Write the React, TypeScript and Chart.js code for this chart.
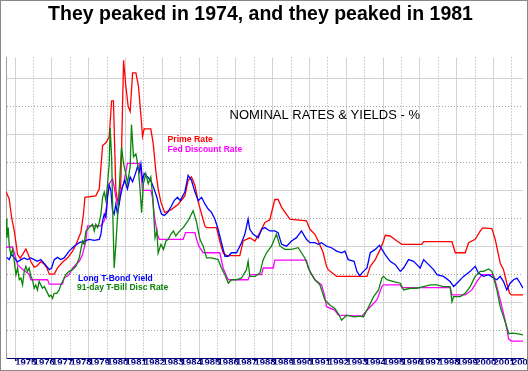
import React, { useEffect, useRef } from "react";
import { Chart, registerables } from "chart.js";

Chart.register(...registerables);

const titleText = "They peaked in 1974, and they peaked in 1981";
const subtitleText = "NOMINAL RATES & YIELDS - %";
const seriesNames = ["Prime Rate", "Fed Discount Rate", "Long T-Bond Yield", "91-day T-Bill Disc Rate"];

const xTickYears = [
  1975, 1976, 1977, 1978, 1979, 1980, 1981, 1982, 1983, 1984, 1985, 1986, 1987, 1988,
  1989, 1990, 1991, 1992, 1993, 1994, 1995, 1996, 1997, 1998, 1999, 2000, 2001, 2002,
];
const yGridValues = [0, 2, 4, 6, 8, 10, 12, 14, 16, 18, 20];

// [decimal year, percent]
const primeRate: [number, number][] = [
  [1974.5, 11.9], [1974.67, 11.4], [1974.8, 10.1], [1974.95, 9.1], [1975.13, 7.4], [1975.27, 7.15],
  [1975.4, 7.4], [1975.58, 7.8], [1975.71, 7.4], [1975.85, 6.9], [1976.03, 6.5], [1976.2, 6.6],
  [1976.39, 6.9], [1976.58, 6.7], [1976.72, 6.45], [1976.85, 6.0], [1977.12, 6.0], [1977.3, 6.45],
  [1977.57, 6.85], [1977.84, 7.15], [1978.12, 7.65], [1978.3, 8.1], [1978.57, 9.0], [1978.71, 10.3],
  [1978.79, 11.5], [1979.38, 11.6], [1979.57, 12.1], [1979.75, 15.2], [1979.93, 15.4], [1980.11, 15.85],
  [1980.24, 18.4], [1980.34, 18.4], [1980.47, 12.0], [1980.6, 11.0], [1980.74, 12.5], [1980.89, 21.3],
  [1981.01, 19.5], [1981.14, 18.0], [1981.25, 17.65], [1981.38, 20.4], [1981.56, 20.4], [1981.7, 19.45],
  [1981.83, 17.4], [1981.92, 15.85], [1982.01, 16.4], [1982.37, 16.4], [1982.5, 15.35], [1982.64, 13.4],
  [1982.77, 12.1], [1982.92, 11.15], [1983.13, 10.4], [1983.46, 10.6], [1983.86, 11.0], [1984.22, 11.6],
  [1984.4, 12.7], [1984.58, 12.95], [1984.77, 12.35], [1984.95, 11.15], [1985.13, 10.3], [1985.31, 9.45],
  [1985.4, 9.33], [1985.94, 9.33], [1986.12, 8.37], [1986.3, 7.53], [1986.49, 7.33], [1987.21, 7.33],
  [1987.39, 8.37], [1987.75, 8.6], [1988.03, 8.37], [1988.3, 8.97], [1988.57, 9.7], [1988.84, 9.89],
  [1989.11, 11.34], [1989.29, 11.34], [1989.48, 10.78], [1989.93, 9.94], [1990.83, 9.82], [1991.02, 9.21],
  [1991.29, 8.85], [1991.47, 8.37], [1991.74, 7.53], [1991.92, 6.56], [1992.01, 6.32], [1992.47, 5.84],
  [1994.12, 5.84], [1994.3, 6.56], [1994.57, 7.04], [1994.84, 7.77], [1995.02, 8.37], [1995.11, 8.78],
  [1995.38, 8.73], [1995.75, 8.37], [1996.02, 8.13], [1997.1, 8.13], [1997.2, 8.32], [1998.74, 8.32],
  [1998.92, 7.53], [1999.46, 7.53], [1999.64, 8.25], [2000.0, 8.49], [2000.28, 9.09], [2000.42, 9.31],
  [2000.91, 9.26], [2001.09, 8.49], [2001.36, 6.8], [2001.54, 6.32], [2001.72, 5.35], [2001.87, 4.63],
  [2002.0, 4.51], [2002.6, 4.51],
];

const fedDiscountRate: [number, number][] = [
  [1974.5, 7.94], [1974.86, 7.94], [1974.98, 7.4], [1975.13, 6.68], [1975.31, 6.44], [1975.76, 6.0],
  [1975.85, 5.6], [1976.76, 5.6], [1976.85, 5.28], [1977.57, 5.28], [1977.66, 5.72], [1977.93, 5.96],
  [1978.12, 6.44], [1978.48, 6.92], [1978.66, 7.4], [1978.84, 8.37], [1978.93, 9.45], [1979.66, 9.45],
  [1979.84, 9.82], [1979.98, 11.0], [1980.05, 12.35], [1980.29, 12.83], [1980.38, 12.23], [1980.47, 11.5],
  [1980.56, 11.0], [1980.65, 11.0], [1980.74, 12.0], [1980.89, 12.47], [1981.1, 13.92], [1981.74, 13.92],
  [1981.83, 13.31], [1981.92, 12.0], [1982.37, 12.0], [1982.46, 11.5], [1982.55, 10.3], [1982.64, 9.57],
  [1982.73, 8.85], [1982.83, 8.49], [1984.13, 8.49], [1984.26, 8.97], [1984.77, 8.97], [1984.86, 8.49],
  [1984.98, 8.0], [1985.22, 7.53], [1986.12, 7.53], [1986.3, 6.44], [1986.49, 5.84], [1986.58, 5.6],
  [1987.66, 5.6], [1987.75, 5.96], [1988.39, 5.96], [1988.48, 6.44], [1989.02, 6.44], [1989.11, 7.0],
  [1990.83, 7.0], [1990.93, 6.44], [1991.11, 5.96], [1991.29, 5.6], [1991.65, 5.23], [1991.83, 4.39],
  [1991.92, 3.67], [1992.37, 3.43], [1992.56, 3.06], [1993.84, 3.0], [1994.3, 3.67], [1994.66, 4.15],
  [1994.93, 5.11], [1995.02, 5.23], [1995.93, 5.23], [1996.02, 5.04], [1998.65, 5.04], [1998.74, 4.51],
  [1999.46, 4.51], [1999.82, 4.87], [2000.09, 5.47], [2000.37, 5.96], [2000.99, 5.96], [2001.18, 5.11],
  [2001.36, 4.15], [2001.63, 2.7], [2001.82, 1.37], [2001.96, 1.21], [2002.6, 1.21],
];

const longBondYield: [number, number][] = [
  [1974.55, 7.2], [1974.67, 7.04], [1974.8, 7.4], [1974.95, 7.16], [1975.13, 6.87], [1975.31, 7.04],
  [1975.49, 7.16], [1975.67, 7.04], [1975.85, 7.16], [1976.03, 7.04], [1976.21, 6.92], [1976.39, 7.04],
  [1976.67, 6.63], [1976.85, 6.32], [1976.98, 6.44], [1977.12, 7.04], [1977.3, 7.2], [1977.48, 7.04],
  [1977.66, 7.16], [1977.93, 7.65], [1978.2, 8.0], [1978.48, 8.25], [1978.75, 8.37], [1979.02, 8.49],
  [1979.3, 8.42], [1979.57, 8.49], [1979.66, 8.85], [1979.75, 9.82], [1979.84, 10.3], [1979.93, 10.06],
  [1980.02, 11.5], [1980.11, 12.35], [1980.2, 12.0], [1980.29, 10.54], [1980.38, 10.3], [1980.47, 11.0],
  [1980.56, 10.3], [1980.71, 11.5], [1980.83, 12.23], [1980.96, 12.71], [1981.1, 12.1], [1981.25, 12.95],
  [1981.38, 12.6], [1981.56, 13.3], [1981.65, 13.7], [1981.74, 13.3], [1981.83, 13.9], [1981.92, 12.7],
  [1982.01, 13.2], [1982.19, 12.95], [1982.37, 12.7], [1982.55, 12.1], [1982.7, 11.5], [1982.83, 10.8],
  [1982.95, 10.3], [1983.1, 10.2], [1983.28, 10.4], [1983.46, 10.8], [1983.64, 11.26], [1983.82, 11.5],
  [1983.97, 11.26], [1984.22, 11.87], [1984.4, 13.07], [1984.58, 12.71], [1984.77, 11.87], [1984.95, 11.26],
  [1985.13, 11.5], [1985.31, 11.02], [1985.49, 10.66], [1985.67, 10.42], [1985.85, 9.94], [1986.03, 9.21],
  [1986.21, 8.25], [1986.4, 7.28], [1986.58, 7.28], [1986.76, 7.53], [1987.03, 7.53], [1987.3, 8.25],
  [1987.48, 8.85], [1987.66, 9.94], [1987.75, 9.21], [1987.94, 8.85], [1988.21, 8.61], [1988.39, 9.21],
  [1988.57, 9.33], [1988.84, 9.09], [1989.11, 9.09], [1989.29, 8.97], [1989.48, 8.13], [1989.75, 8.0],
  [1990.02, 8.37], [1990.29, 8.61], [1990.56, 9.09], [1990.83, 8.49], [1991.02, 8.25], [1991.29, 8.25],
  [1991.47, 8.13], [1991.65, 8.25], [1991.92, 8.0], [1992.19, 7.89], [1992.47, 7.65], [1992.74, 7.53],
  [1992.92, 7.65], [1993.1, 7.04], [1993.42, 6.92], [1993.57, 6.2], [1993.72, 5.89], [1993.93, 6.2],
  [1994.12, 6.44], [1994.3, 7.53], [1994.57, 7.77], [1994.8, 8.06], [1994.93, 7.77], [1995.11, 7.4],
  [1995.38, 6.92], [1995.66, 6.68], [1995.93, 6.2], [1996.11, 6.44], [1996.38, 7.04], [1996.65, 6.92],
  [1996.83, 6.68], [1997.01, 6.44], [1997.2, 7.04], [1997.47, 6.68], [1997.74, 6.32], [1997.92, 5.96],
  [1998.28, 5.84], [1998.64, 5.47], [1998.83, 5.11], [1999.01, 5.35], [1999.37, 5.84], [1999.73, 6.2],
  [2000.0, 6.56], [2000.18, 6.08], [2000.46, 5.84], [2000.73, 5.96], [2001.0, 5.72], [2001.18, 5.6],
  [2001.36, 5.84], [2001.54, 5.47], [2001.72, 4.87], [2001.9, 5.35], [2002.09, 5.6], [2002.27, 5.72],
  [2002.45, 5.35], [2002.6, 5.0],
];

const tBillRate: [number, number][] = [
  [1974.5, 9.94], [1974.55, 8.6], [1974.62, 9.33], [1974.67, 8.13], [1974.76, 7.4], [1974.86, 7.77],
  [1974.95, 6.92], [1975.04, 5.96], [1975.13, 6.44], [1975.22, 5.6], [1975.31, 5.72], [1975.4, 5.23],
  [1975.49, 6.2], [1975.58, 6.56], [1975.67, 6.2], [1975.76, 6.44], [1975.85, 5.84], [1975.94, 5.6],
  [1976.03, 4.99], [1976.12, 5.23], [1976.21, 4.87], [1976.3, 5.48], [1976.39, 5.23], [1976.48, 4.99],
  [1976.58, 5.11], [1976.72, 4.75], [1976.85, 4.39], [1976.94, 4.5], [1977.03, 4.27], [1977.12, 4.63],
  [1977.26, 4.63], [1977.39, 4.87], [1977.48, 5.23], [1977.62, 5.6], [1977.75, 5.96], [1977.93, 6.2],
  [1978.12, 6.32], [1978.3, 6.56], [1978.48, 7.16], [1978.66, 8.37], [1978.75, 8.13], [1978.84, 9.09],
  [1979.02, 9.33], [1979.2, 9.57], [1979.3, 9.09], [1979.38, 9.57], [1979.48, 9.33], [1979.57, 9.7],
  [1979.66, 10.3], [1979.75, 11.5], [1979.84, 11.87], [1979.93, 11.26], [1980.02, 12.47], [1980.11, 13.9],
  [1980.16, 16.45], [1980.24, 14.4], [1980.31, 10.06], [1980.38, 6.44], [1980.47, 8.13], [1980.56, 10.06],
  [1980.65, 12.0], [1980.78, 15.1], [1980.89, 13.9], [1981.01, 13.2], [1981.1, 12.5], [1981.25, 13.7],
  [1981.32, 16.7], [1981.43, 14.4], [1981.56, 14.6], [1981.68, 13.7], [1981.79, 12.0], [1981.87, 10.4],
  [1981.97, 12.47], [1982.1, 13.2], [1982.23, 12.47], [1982.37, 12.95], [1982.48, 11.5], [1982.6, 8.6],
  [1982.7, 9.09], [1982.77, 7.5], [1982.92, 8.13], [1983.06, 7.77], [1983.19, 8.37], [1983.32, 8.49],
  [1983.46, 8.85], [1983.6, 9.09], [1983.73, 8.73], [1983.86, 8.97], [1984.13, 9.33], [1984.4, 9.82],
  [1984.67, 10.54], [1984.86, 9.7], [1985.04, 8.49], [1985.22, 8.0], [1985.4, 7.16], [1985.67, 7.16],
  [1986.03, 7.04], [1986.21, 6.44], [1986.4, 5.96], [1986.58, 5.35], [1986.76, 5.6], [1987.03, 5.6],
  [1987.3, 5.72], [1987.57, 6.32], [1987.66, 6.92], [1987.75, 5.84], [1988.03, 5.84], [1988.3, 6.08],
  [1988.48, 7.04], [1988.66, 7.53], [1988.93, 8.0], [1989.2, 8.85], [1989.39, 8.0], [1989.66, 7.77],
  [1990.02, 7.77], [1990.38, 7.89], [1990.74, 7.16], [1991.02, 6.2], [1991.29, 5.6], [1991.56, 5.23],
  [1991.83, 4.15], [1992.1, 3.79], [1992.37, 3.55], [1992.56, 3.18], [1992.74, 2.7], [1993.01, 3.06],
  [1993.42, 2.94], [1993.75, 3.0], [1993.93, 2.94], [1994.21, 3.67], [1994.48, 4.39], [1994.75, 4.87],
  [1994.93, 5.72], [1995.02, 5.84], [1995.2, 5.6], [1995.57, 5.47], [1995.93, 5.35], [1996.11, 4.87],
  [1996.47, 4.99], [1996.83, 4.99], [1997.2, 5.11], [1997.56, 5.23], [1997.92, 5.23], [1998.28, 5.11],
  [1998.64, 5.11], [1998.74, 4.03], [1998.83, 4.39], [1999.19, 4.39], [1999.46, 4.63], [1999.73, 5.11],
  [2000.0, 5.84], [2000.28, 6.2], [2000.46, 6.2], [2000.73, 6.37], [2000.91, 6.2], [2001.18, 4.87],
  [2001.36, 3.67], [2001.54, 2.94], [2001.72, 2.22], [2001.82, 1.74], [2002.0, 1.78], [2002.27, 1.74],
  [2002.6, 1.66],
];

const RED = "#ff0000";
const MAGENTA = "#ff00ff";
const BLUE = "#0000ff";
const GREEN = "#0a850a";
const NAVY = "#000080";
const FONT = "'Liberation Sans', Arial, Helvetica, sans-serif";

const gridColor = (c: any) => (c.index % 2 ? "#a4a4a4" : "#d2d2d2");
const gridDash = (c: any) => (c.index % 2 ? [1, 2] : []);

export default function App() {
  const ref = useRef<HTMLCanvasElement | null>(null);

  useEffect(() => {
    document.body.style.margin = "0";
    const canvas = ref.current;
    if (!canvas) return;
    const toPts = (arr: [number, number][]) => arr.map(([x, y]) => ({ x, y }));

    const textPlugin = {
      id: "chartTexts",
      afterDraw(chart: any) {
        const ctx = chart.ctx as CanvasRenderingContext2D;
        ctx.save();
        ctx.textBaseline = "alphabetic";
        ctx.fillStyle = "#000000";
        ctx.font = `bold 19.5px ${FONT}`;
        ctx.textAlign = "center";
        ctx.fillText(titleText, 260.5, 19.5);
        ctx.textAlign = "left";
        ctx.font = `13px ${FONT}`;
        ctx.fillText(subtitleText, 229.5, 118.5);
        ctx.font = `bold 8.7px ${FONT}`;
        ctx.fillStyle = RED;
        ctx.fillText(seriesNames[0], 167.5, 141.5);
        ctx.font = `bold 8.5px ${FONT}`;
        ctx.fillStyle = MAGENTA;
        ctx.fillText(seriesNames[1], 167.5, 152);
        ctx.fillStyle = BLUE;
        ctx.fillText(seriesNames[2], 78, 281);
        ctx.fillStyle = GREEN;
        ctx.fillText(seriesNames[3], 77, 290);
        ctx.strokeStyle = "#888888";
        ctx.lineWidth = 1;
        ctx.strokeRect(0.5, 0.5, chart.width - 1, chart.height - 1);
        ctx.restore();
      },
    };

    const chart = new Chart(canvas, {
      type: "line",
      data: {
        datasets: [
          { label: seriesNames[3], data: toPts(tBillRate), borderColor: GREEN, borderWidth: 1.3 },
          { label: seriesNames[2], data: toPts(longBondYield), borderColor: BLUE, borderWidth: 1.3 },
          { label: seriesNames[1], data: toPts(fedDiscountRate), borderColor: MAGENTA, borderWidth: 1.3 },
          { label: seriesNames[0], data: toPts(primeRate), borderColor: RED, borderWidth: 1.3 },
        ],
      },
      options: {
        animation: false,
        responsive: false,
        devicePixelRatio: 1,
        layout: { padding: { left: 6, right: 5, top: 57.5, bottom: 6.5 } },
        elements: { point: { radius: 0 }, line: { tension: 0, fill: false } },
        plugins: { legend: { display: false }, title: { display: false }, tooltip: { enabled: false } },
        scales: {
          x: {
            type: "linear",
            position: "bottom",
            min: 1974.5,
            max: 2002.6,
            afterBuildTicks: (s: any) => {
              s.ticks = xTickYears.map((v) => ({ value: v }));
            },
            afterFit: (s: any) => {
              s.paddingLeft = 0;
              s.paddingRight = 0;
            },
            ticks: {
              autoSkip: false,
              maxRotation: 0,
              minRotation: 0,
              align: "start",
              padding: -3,
              color: NAVY,
              font: { family: "'Liberation Sans Narrow', 'Arial Narrow', " + FONT, size: 9.5, weight: "bold", lineHeight: 1 },
              callback: (v: any) => String(v),
            },
            grid: { color: gridColor, lineWidth: 1, drawTicks: true, tickLength: 3, tickColor: NAVY },
            border: { display: true, color: NAVY, width: 1, dash: gridDash },
          },
          y: {
            min: 0,
            max: 21.5,
            afterBuildTicks: (s: any) => {
              s.ticks = yGridValues.map((v) => ({ value: v }));
            },
            afterFit: (s: any) => {
              s.paddingTop = 0;
              s.paddingBottom = 0;
            },
            ticks: { display: false },
            grid: { color: gridColor, lineWidth: 1, drawTicks: false },
            border: { display: true, color: "#a0a0a0", width: 1, dash: gridDash },
          },
        },
      },
      plugins: [textPlugin],
    } as any);

    return () => chart.destroy();
  }, []);

  return (
    <div style={{ width: 528, height: 371 }}>
      <canvas ref={ref} width={528} height={371} style={{ display: "block" }} />
    </div>
  );
}
